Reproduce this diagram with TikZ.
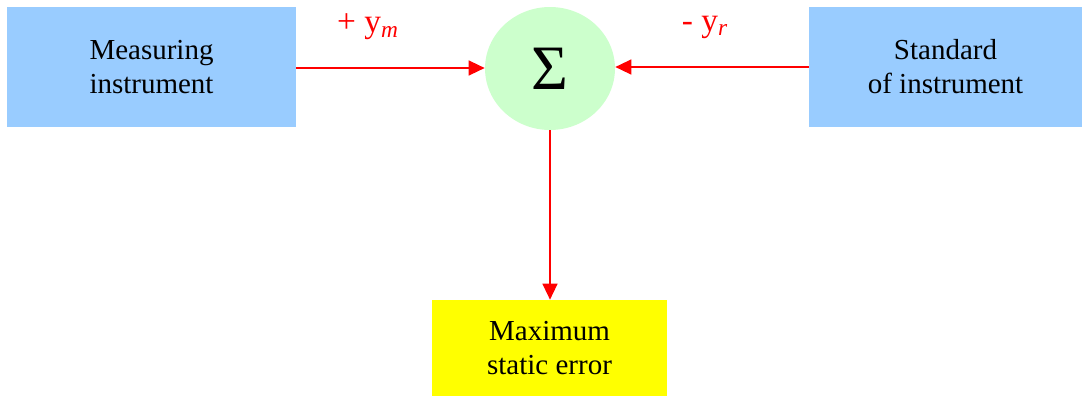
\documentclass[tikz,border=0pt]{standalone}
\usepackage{fontspec}
\setmainfont{Liberation Serif}
\usetikzlibrary{shapes.geometric,arrows.meta}

\definecolor{boxblue}{HTML}{99CCFF}
\definecolor{sumgreen}{HTML}{CCFFCC}
\definecolor{errbox}{HTML}{FFFF00}

\begin{document}
\begin{tikzpicture}[x=0.02cm, y=-0.02cm,
    every node/.style={font=\fontsize{16.5}{19.4}\selectfont, align=center},
    block/.style={fill=boxblue, minimum height=2.4cm, inner sep=0pt},
    sign/.style={text=red, font=\fontsize{19}{22}\selectfont},
    flow/.style={red, thick, -{Triangle[length=0.32cm, width=0.3cm]}}]
        \useasboundingbox (0,0) rectangle (1088,396);

        \node[block, minimum width=5.78cm] (meas) at (151.5, 67) {Measuring\\instrument};
        \node[block, minimum width=5.46cm] (std) at (945.5, 67) {Standard\\of instrument};
        \node[ellipse, fill=sumgreen, minimum width=2.6cm, minimum height=2.46cm, inner sep=0pt, font=\fontsize{36}{36}\selectfont] (sum) at (550, 68.5) {Σ};
        \node[fill=errbox, minimum width=4.7cm, minimum height=1.92cm, inner sep=0pt] (err) at (549.5, 348) {Maximum\\static error};

        \draw[flow] (meas.east |- 0, 68) -- (sum.west |- 0, 68);
        \draw[flow] (std.west |- 0, 67) -- (sum.east |- 0, 67);
        \draw[flow] (sum.south) -- (sum.south |- err.north);

        \node[sign] (ym) at (368, 27) {+ y\textsubscript{\itshape m}};
        \node[sign] (yr) at (705, 27) {- y\textsubscript{\itshape r}};
      \end{tikzpicture}
\end{document}
